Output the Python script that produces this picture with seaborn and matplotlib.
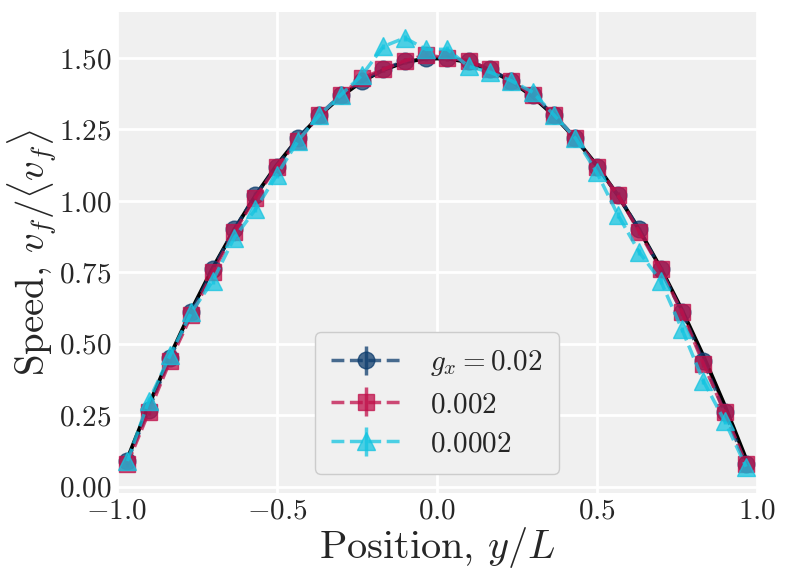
import matplotlib
matplotlib.use("Agg")
import matplotlib.pyplot as plt
import pandas as pd
import seaborn as sns

# channel positions (cell centres)
pos = [-0.9667, -0.9, -0.8333, -0.7667, -0.7, -0.6333, -0.5667, -0.5, -0.4333, -0.3667,
       -0.3, -0.2333, -0.1667, -0.1, -0.0333, 0.0333, 0.1, 0.1667, 0.2333, 0.3,
       0.3667, 0.4333, 0.5, 0.5667, 0.6333, 0.7, 0.7667, 0.8333, 0.9, 0.9667]

# analytic profile
theory = [0.098, 0.285, 0.458, 0.618, 0.765, 0.898, 1.018, 1.125, 1.218, 1.298,
          1.365, 1.418, 1.458, 1.485, 1.498, 1.498, 1.485, 1.458, 1.418, 1.365,
          1.298, 1.218, 1.125, 1.018, 0.898, 0.765, 0.618, 0.458, 0.285, 0.098]

speed_02 = [0.09, 0.27, 0.45, 0.61, 0.76, 0.90, 1.02, 1.12, 1.22, 1.30,
            1.37, 1.42, 1.46, 1.49, 1.50, 1.50, 1.49, 1.46, 1.42, 1.37,
            1.30, 1.22, 1.12, 1.02, 0.90, 0.76, 0.61, 0.44, 0.26, 0.08]
speed_002 = [0.08, 0.26, 0.44, 0.60, 0.75, 0.89, 1.01, 1.12, 1.21, 1.30,
             1.37, 1.43, 1.46, 1.49, 1.51, 1.50, 1.49, 1.46, 1.42, 1.37,
             1.30, 1.22, 1.12, 1.02, 0.89, 0.76, 0.61, 0.43, 0.26, 0.08]
speed_0002 = [0.09, 0.30, 0.46, 0.61, 0.72, 0.87, 0.97, 1.09, 1.21, 1.30,
              1.37, 1.44, 1.54, 1.57, 1.53, 1.53, 1.47, 1.45, 1.42, 1.38,
              1.30, 1.22, 1.10, 0.95, 0.82, 0.72, 0.55, 0.37, 0.23, 0.07]
err = [0.01, 0.01, 0.01]

labels = [r"$g_x=0.02$", r"$0.002$", r"$0.0002$"]
colors = ["#0e3d6e", "#c0104a", "#14c4e0"]
markers = ["o", "s", "^"]

sns.set_style("darkgrid", {"axes.facecolor": "#f0f0f0", "grid.color": "white"})
plt.rcParams["font.family"] = "serif"
plt.rcParams["font.serif"] = ["cmr10"]
plt.rcParams["mathtext.fontset"] = "cm"
plt.rcParams["axes.formatter.use_mathtext"] = True

fig = plt.figure(figsize=(7.89, 5.8), dpi=100)
fig.patch.set_facecolor("white")
ax = fig.add_axes([0.148, 0.15, 0.811, 0.829])

data = pd.DataFrame({"pos": pos, "theory": theory})
sns.lineplot(data=data, x="pos", y="theory", color="black", linewidth=2.8, ax=ax, zorder=1)

for ys, lab, c, m, e in zip([speed_02, speed_002, speed_0002], labels, colors, markers, err):
    ax.errorbar(pos, ys, yerr=e, fmt=m, ls="--", color=c, alpha=0.75, lw=2.5,
                ms=12 if m != "^" else 13, label=lab, zorder=2)

ax.set_xlim(-1, 1)
ax.set_ylim(-0.022, 1.66)
ax.set_yticks([0, 0.25, 0.5, 0.75, 1.0, 1.25, 1.5])
ax.set_xticks([-1.0, -0.5, 0.0, 0.5, 1.0])
ax.grid(True, color="white", lw=2)
for s in ax.spines.values():
    s.set_visible(False)
ax.tick_params(labelsize=21, length=0, pad=4)
ax.set_xlabel(r"Position, $y/L$", fontsize=29, labelpad=0)
ax.set_ylabel(r"Speed, $v_f/\langle v_f \rangle$", fontsize=28, labelpad=0)

leg = ax.legend(loc="lower center", fontsize=21, frameon=True, facecolor="#f0f0f0",
                edgecolor="#cccccc", framealpha=1, handlelength=2.4, handletextpad=1.0,
                borderpad=0.55, labelspacing=0.45, bbox_to_anchor=(0.5, 0.01))

fig.savefig("out.png", dpi=100)
